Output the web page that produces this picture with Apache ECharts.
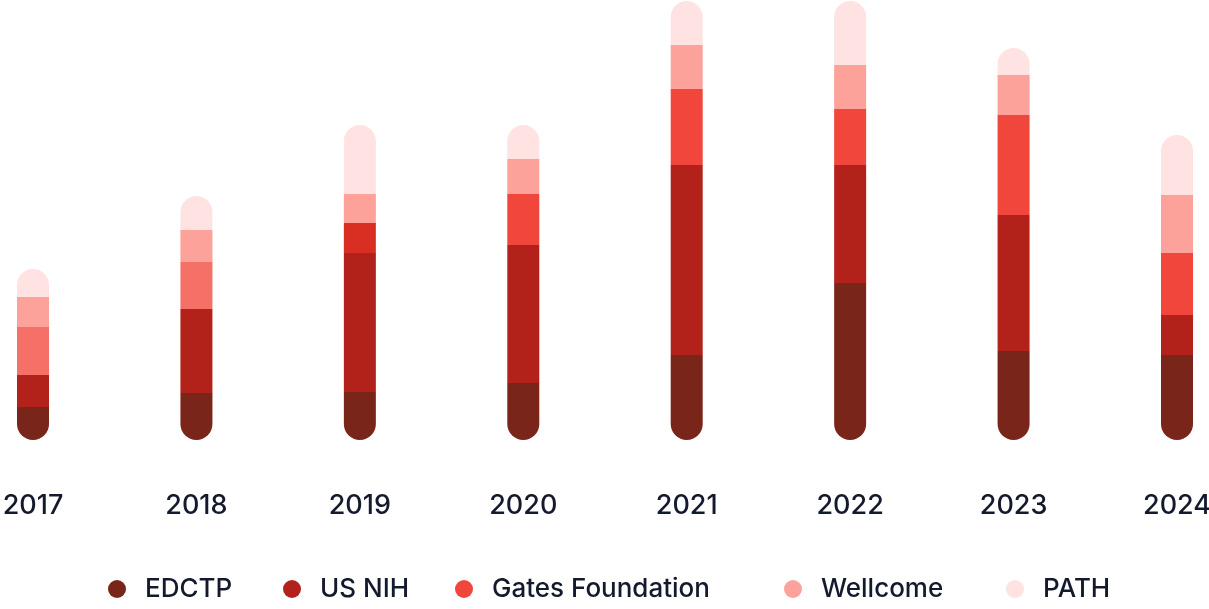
<!DOCTYPE html>
<html>
<head>
<meta charset="utf-8">
<script src="https://cdn.jsdelivr.net/npm/echarts@6/dist/echarts.min.js"></script>
<style>
  html, body { margin: 0; padding: 0; background: #fff; }
  #chart { width: 1209px; height: 609px; }
</style>
</head>
<body>
<div id="chart"></div>
<script>
// 数据
const years = ['2017', '2018', '2019', '2020', '2021', '2022', '2023', '2024']
const edctp = [33, 47, 48, 57, 85, 157, 89, 85]
const usNih = [32, 84, 139, 138, 190, 118, 136, 40]
const gates = [48, 47, 30, 51, 76, 56, 100, 62]
const wellcome = [30, 32, 29, 35, 44, 44, 40, 58]
const path = [28, 34, 69, 34, 44, 64, 27, 60]

const funders = [
  { name: 'EDCTP', data: edctp, color: '#7a2519' },
  { name: 'US NIH', data: usNih, color: '#b3221a' },
  { name: 'Gates Foundation', data: gates, color: '#f0463b' },
  { name: 'Wellcome', data: wellcome, color: '#fca29a' },
  { name: 'PATH', data: path, color: '#ffe2e2' }
]

// 个别年份的颜色略有不同
const gatesYearColor = { 0: '#f57168', 1: '#f57168', 2: '#d92e22' }

// 每个图例项的左边位置
const legendLeft = [103, 278, 450, 779, 1001]

const chart = echarts.init(document.getElementById('chart'))

const series = funders.map((f, i) => {
  let radius = 0
  if (i === 0) radius = [0, 0, 16, 16]
  if (i === funders.length - 1) radius = [16, 16, 0, 0]
  return {
    name: f.name,
    type: 'bar',
    stack: 'total',
    barWidth: 32,
    itemStyle: { color: f.color, borderRadius: radius },
    emphasis: { disabled: true },
    data: f.data.map((v, j) => {
      if (f.name === 'Gates Foundation' && gatesYearColor[j]) {
        return { value: v, itemStyle: { color: gatesYearColor[j] } }
      }
      return v
    })
  }
})

chart.setOption({
  animation: false,
  color: funders.map(f => f.color),
  grid: {
    left: 33, right: 32, top: 0, bottom: 169,
    containLabel: false,
    outerBoundsMode: 'none'
  },
  xAxis: {
    type: 'category',
    data: years,
    boundaryGap: false,
    axisLine: { show: false },
    axisTick: { show: false },
    axisLabel: {
      margin: 52,
      fontFamily: 'Inter',
      fontWeight: 500,
      fontSize: 27,
      color: '#141a2e'
    }
  },
  yAxis: {
    type: 'value',
    min: 0,
    max: 440,
    show: false
  },
  legend: funders.map((f, i) => ({
    left: legendLeft[i],
    top: 571,
    icon: 'circle',
    itemWidth: 18,
    itemHeight: 18,
    data: [f.name],
    textStyle: {
      fontFamily: 'Inter',
      fontWeight: 500,
      fontSize: 26,
      color: '#141a2e',
      padding: [0, 0, 0, 14]
    }
  })),
  series: series
})
</script>
</body>
</html>
